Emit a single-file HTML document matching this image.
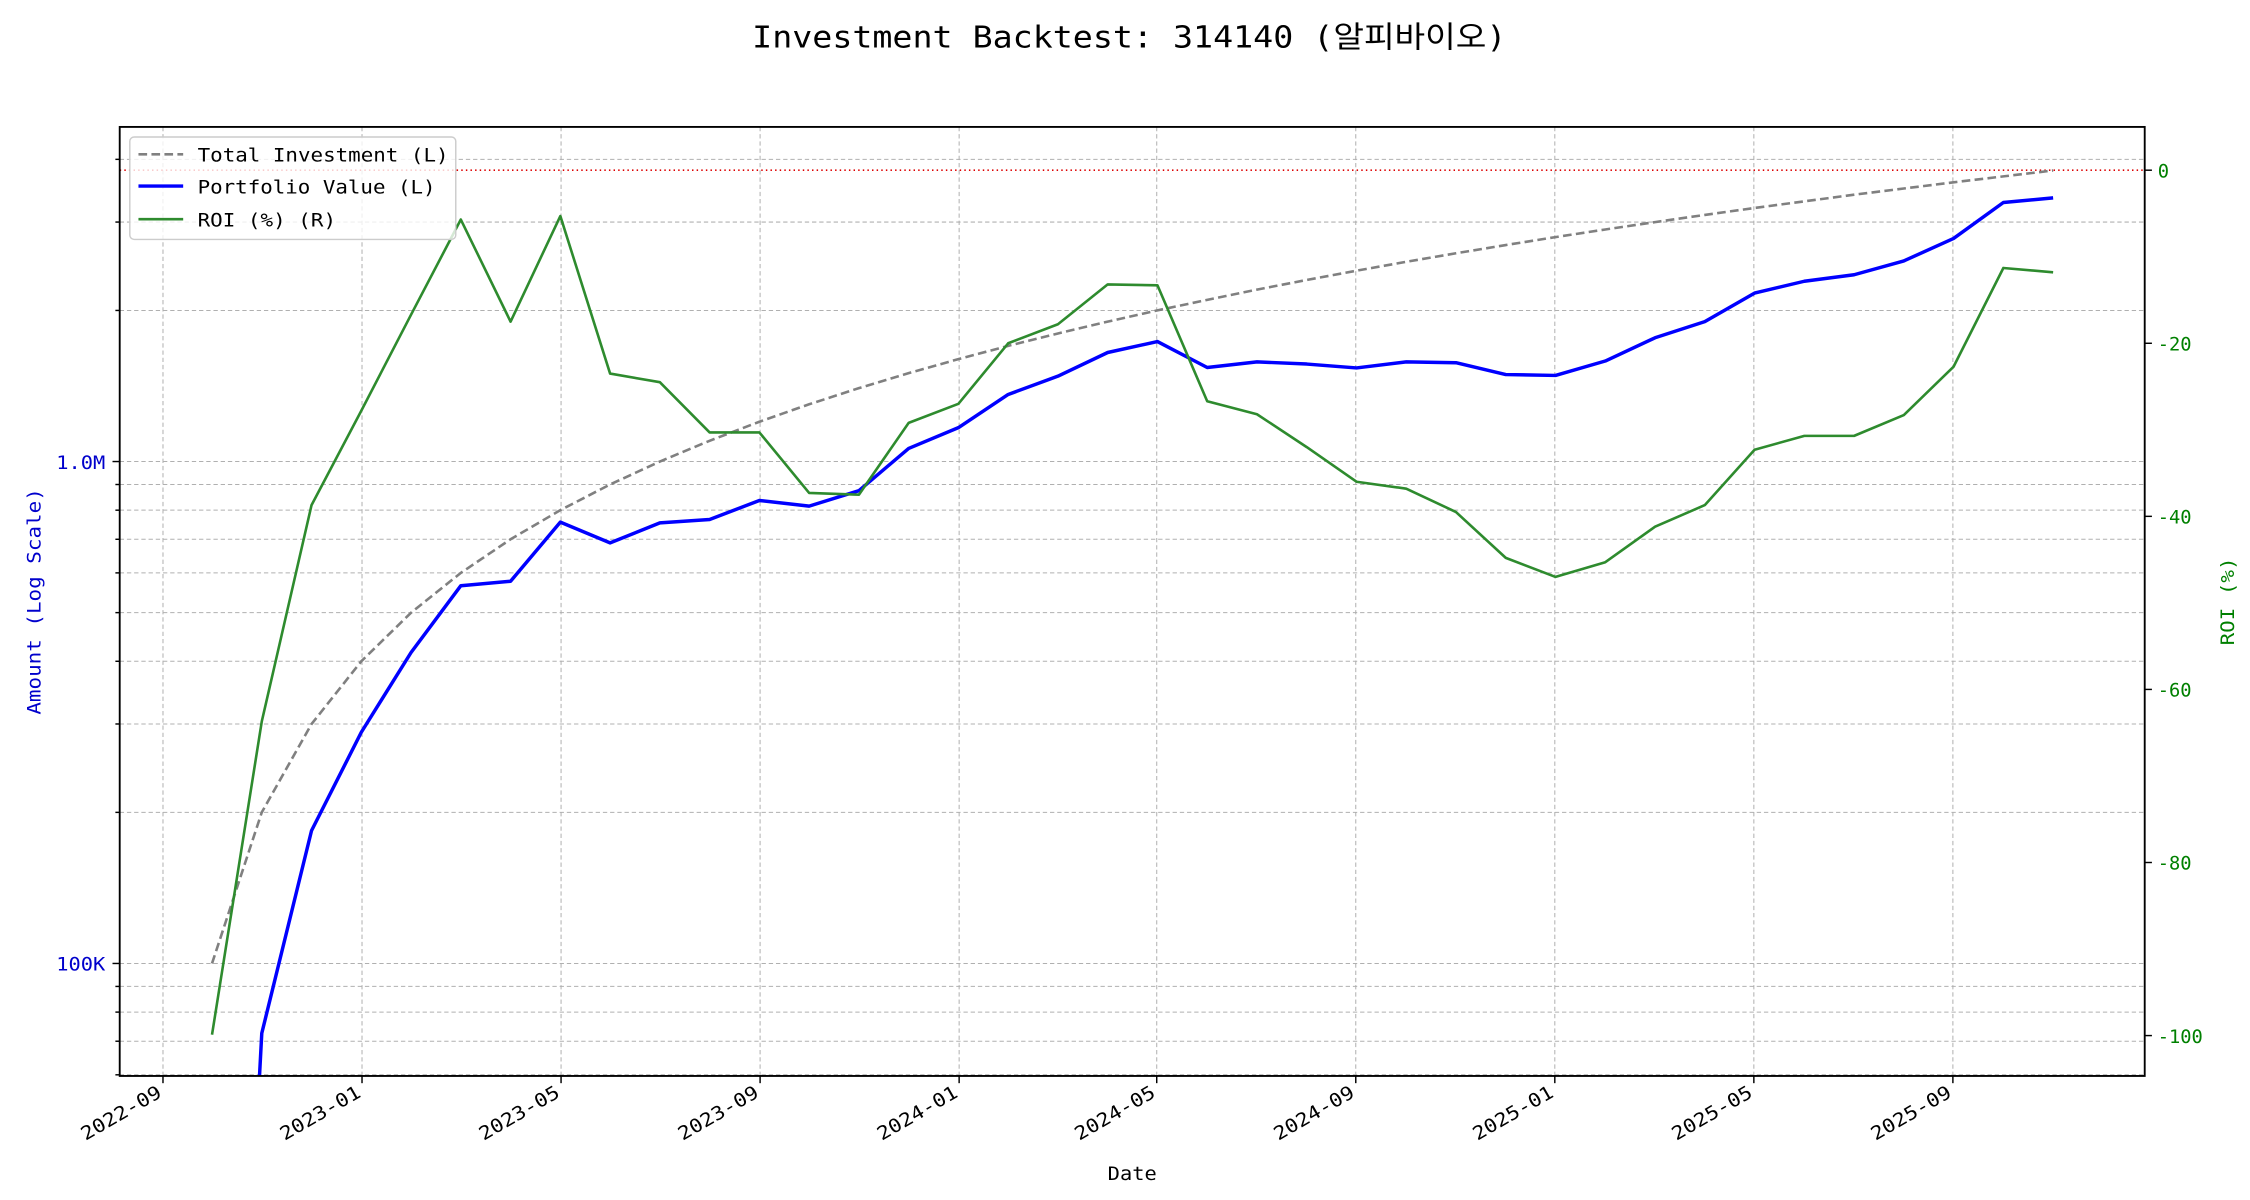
<!DOCTYPE html>
<html><head><meta charset="utf-8"><style>
html,body{margin:0;padding:0;background:#fff;width:2250px;height:1200px;overflow:hidden;}
svg{display:block;position:absolute;left:0;top:0;}
text{font-family:"DejaVu Sans Mono","Liberation Mono","Noto Sans CJK KR",monospace;}
</style></head><body>
<svg id="s" width="2250" height="1200" viewBox="0 0 1560 832" preserveAspectRatio="none" xmlns="http://www.w3.org/2000/svg">
<rect width="1560" height="832" fill="#fff"/>
<text x="783" y="33" font-size="21" text-anchor="middle" textLength="523" lengthAdjust="spacingAndGlyphs">Investment Backtest: 314140 (알피바이오)</text>
<defs><clipPath id="c"><rect x="83" y="88" width="1404" height="658"/></clipPath></defs>
<g id="grid" stroke="#b0b0b0" stroke-width="0.7" stroke-dasharray="3,2" fill="none"></g>
<g id="ticks" stroke="#000" stroke-width="1"></g>
<line x1="83" y1="118" x2="1487" y2="118" stroke="#d00" stroke-width="1.1" stroke-dasharray="1,2.2"/>
<g clip-path="url(#c)">
<path id="inv" fill="none" stroke="#808080" stroke-width="1.8" stroke-dasharray="6,3"/>
<path id="pv" fill="none" stroke="#0000ff" stroke-width="2.4" stroke-linejoin="round"/>
<path id="roi" fill="none" stroke="#2e8b2e" stroke-width="1.8" stroke-linejoin="round"/>
</g>
<rect x="83" y="88" width="1404" height="658" fill="none" stroke="#000" stroke-width="1.3"/>
<g font-size="13" fill="#0000cc" text-anchor="end">
<text x="73" y="325" textLength="34" lengthAdjust="spacingAndGlyphs">1.0M</text>
<text x="73" y="673" textLength="34" lengthAdjust="spacingAndGlyphs">100K</text>
</g>
<g font-size="13" fill="#008000">
<text x="1496" y="123">0</text>
<text x="1496" y="243">-20</text>
<text x="1496" y="363">-40</text>
<text x="1496" y="483">-60</text>
<text x="1496" y="603">-80</text>
<text x="1496" y="723">-100</text>
</g>
<text transform="translate(28,417) rotate(-90)" font-size="13" fill="#0000cc" text-anchor="middle" textLength="157" lengthAdjust="spacingAndGlyphs">Amount (Log Scale)</text>
<text transform="translate(1549,417) rotate(-90)" font-size="13" fill="#008000" text-anchor="middle" textLength="61" lengthAdjust="spacingAndGlyphs">ROI (%)</text>
<text x="785" y="818" font-size="13" text-anchor="middle" textLength="34" lengthAdjust="spacingAndGlyphs">Date</text>
<g id="xl" font-size="13" text-anchor="end">
<text transform="translate(113,760) rotate(-30)" textLength="62" lengthAdjust="spacingAndGlyphs">2022-09</text>
<text transform="translate(251,760) rotate(-30)" textLength="62" lengthAdjust="spacingAndGlyphs">2023-01</text>
<text transform="translate(389,760) rotate(-30)" textLength="62" lengthAdjust="spacingAndGlyphs">2023-05</text>
<text transform="translate(527,760) rotate(-30)" textLength="62" lengthAdjust="spacingAndGlyphs">2023-09</text>
<text transform="translate(665,760) rotate(-30)" textLength="62" lengthAdjust="spacingAndGlyphs">2024-01</text>
<text transform="translate(802,760) rotate(-30)" textLength="62" lengthAdjust="spacingAndGlyphs">2024-05</text>
<text transform="translate(940,760) rotate(-30)" textLength="62" lengthAdjust="spacingAndGlyphs">2024-09</text>
<text transform="translate(1078,760) rotate(-30)" textLength="62" lengthAdjust="spacingAndGlyphs">2025-01</text>
<text transform="translate(1216,760) rotate(-30)" textLength="62" lengthAdjust="spacingAndGlyphs">2025-05</text>
<text transform="translate(1354,760) rotate(-30)" textLength="62" lengthAdjust="spacingAndGlyphs">2025-09</text>
</g>
<rect x="90" y="95" width="226" height="71" rx="3" fill="#fff" fill-opacity="0.8" stroke="#ccc" stroke-width="1"/>
<line x1="96" y1="107" x2="127" y2="107" stroke="#808080" stroke-width="1.8" stroke-dasharray="6,3"/>
<line x1="96" y1="129" x2="127" y2="129" stroke="#0000ff" stroke-width="2.4"/>
<line x1="96" y1="152" x2="127" y2="152" stroke="#2e8b2e" stroke-width="1.8"/>
<g font-size="13">
<text x="137" y="112" textLength="174" lengthAdjust="spacingAndGlyphs">Total Investment (L)</text>
<text x="137" y="134" textLength="165" lengthAdjust="spacingAndGlyphs">Portfolio Value (L)</text>
<text x="137" y="157" textLength="96" lengthAdjust="spacingAndGlyphs">ROI (%) (R)</text>
</g>
</svg>
<script>
(function(){
var NS="http://www.w3.org/2000/svg";
function yl(v){return 320-348*Math.log10(v/1e6);}
var g=document.getElementById('grid'),t=document.getElementById('ticks');
function ln(p,x1,y1,x2,y2){var e=document.createElementNS(NS,'line');e.setAttribute('x1',x1);e.setAttribute('y1',y1);e.setAttribute('x2',x2);e.setAttribute('y2',y2);p.appendChild(e);}
var xs=[113,251,389,527,665,802,940,1078,1216,1354];
xs.forEach(function(x){ln(g,x,88,x,746);ln(t,x,746,x,751);});
[60e3,70e3,80e3,90e3,100e3,200e3,300e3,400e3,500e3,600e3,700e3,800e3,900e3,1e6,2e6,3e6,4e6].forEach(function(v){var y=yl(v);if(y>=88&&y<=746){ln(g,83,y,1487,y);var maj=(v==1e5||v==1e6);ln(t,maj?78:80,y,83,y);}});
[0,-20,-40,-60,-80,-100].forEach(function(r){ln(t,1487,118-6*r,1492,118-6*r);});
var roi=[-99.9,-63.7,-38.7,-27.8,-16.7,-5.7,-17.5,-5.3,-23.5,-24.5,-30.3,-30.3,-37.3,-37.5,-29.2,-27,-20,-17.8,-13.2,-13.3,-26.7,-28.2,-32,-36,-36.8,-39.5,-44.8,-47,-45.3,-41.2,-38.7,-32.3,-30.7,-30.7,-28.3,-22.7,-11.3,-11.8];
var a="",b="",c="";
roi.forEach(function(r,i){
 var x=147+i*34.5;
 var inv=(i+1)*1e5;
 var yi=yl(inv);
 var pv=inv*(1+r/100);
 var yp=yl(Math.max(pv,1000));
 var yr=118-6*r;
 a+=(i?"L":"M")+x.toFixed(1)+","+yi.toFixed(1);
 b+=(i?"L":"M")+x.toFixed(1)+","+yp.toFixed(1);
 c+=(i?"L":"M")+x.toFixed(1)+","+yr.toFixed(1);
});
document.getElementById('inv').setAttribute('d',a);
document.getElementById('pv').setAttribute('d',b);
document.getElementById('roi').setAttribute('d',c);
})();
</script>
</body></html>
